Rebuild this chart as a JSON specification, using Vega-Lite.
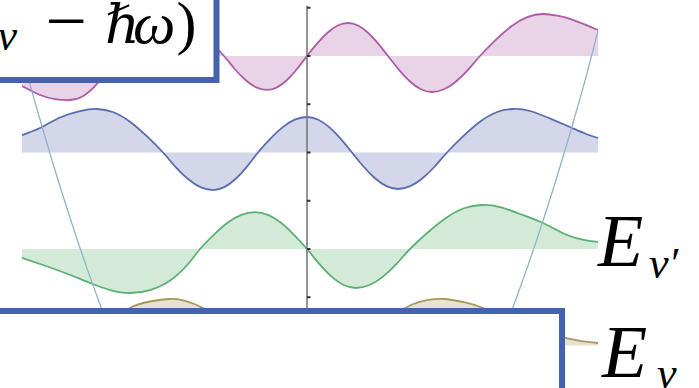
{
  "$schema": "https://vega.github.io/schema/vega-lite/v6.json",
  "width": 699,
  "height": 388,
  "padding": 0,
  "autosize": {"type": "none"},
  "background": "white",
  "config": {"view": {"stroke": null}},
  "datasets": {
    "waves": [
      {"state": "n3", "level": 3, "x": -2.85, "y": 2.689},
      {"state": "n3", "level": 3, "x": -2.67, "y": 2.596},
      {"state": "n3", "level": 3, "x": -2.52, "y": 2.554},
      {"state": "n3", "level": 3, "x": -2.37, "y": 2.544},
      {"state": "n3", "level": 3, "x": -2.25, "y": 2.578},
      {"state": "n3", "level": 3, "x": -2.13, "y": 2.678},
      {"state": "n3", "level": 3, "x": -2.01, "y": 2.826},
      {"state": "n3", "level": 3, "x": -1.89, "y": 3.0},
      {"state": "n3", "level": 3, "x": -1.76, "y": 3.15},
      {"state": "n3", "level": 3, "x": -1.63, "y": 3.279},
      {"state": "n3", "level": 3, "x": -1.5, "y": 3.364},
      {"state": "n3", "level": 3, "x": -1.37, "y": 3.394},
      {"state": "n3", "level": 3, "x": -1.235, "y": 3.364},
      {"state": "n3", "level": 3, "x": -1.1, "y": 3.279},
      {"state": "n3", "level": 3, "x": -0.965, "y": 3.15},
      {"state": "n3", "level": 3, "x": -0.83, "y": 3.0},
      {"state": "n3", "level": 3, "x": -0.7225, "y": 2.865},
      {"state": "n3", "level": 3, "x": -0.615, "y": 2.751},
      {"state": "n3", "level": 3, "x": -0.5075, "y": 2.675},
      {"state": "n3", "level": 3, "x": -0.4, "y": 2.648},
      {"state": "n3", "level": 3, "x": -0.3, "y": 2.675},
      {"state": "n3", "level": 3, "x": -0.2, "y": 2.751},
      {"state": "n3", "level": 3, "x": -0.1, "y": 2.865},
      {"state": "n3", "level": 3, "x": 0, "y": 3.0},
      {"state": "n3", "level": 3, "x": 0.1025, "y": 3.131},
      {"state": "n3", "level": 3, "x": 0.205, "y": 3.241},
      {"state": "n3", "level": 3, "x": 0.3075, "y": 3.316},
      {"state": "n3", "level": 3, "x": 0.41, "y": 3.342},
      {"state": "n3", "level": 3, "x": 0.51, "y": 3.316},
      {"state": "n3", "level": 3, "x": 0.61, "y": 3.241},
      {"state": "n3", "level": 3, "x": 0.71, "y": 3.131},
      {"state": "n3", "level": 3, "x": 0.81, "y": 3.0},
      {"state": "n3", "level": 3, "x": 0.92, "y": 2.857},
      {"state": "n3", "level": 3, "x": 1.03, "y": 2.736},
      {"state": "n3", "level": 3, "x": 1.14, "y": 2.655},
      {"state": "n3", "level": 3, "x": 1.25, "y": 2.627},
      {"state": "n3", "level": 3, "x": 1.37, "y": 2.655},
      {"state": "n3", "level": 3, "x": 1.49, "y": 2.736},
      {"state": "n3", "level": 3, "x": 1.61, "y": 2.857},
      {"state": "n3", "level": 3, "x": 1.73, "y": 3.0},
      {"state": "n3", "level": 3, "x": 1.8875, "y": 3.167},
      {"state": "n3", "level": 3, "x": 2.045, "y": 3.308},
      {"state": "n3", "level": 3, "x": 2.2025, "y": 3.402},
      {"state": "n3", "level": 3, "x": 2.36, "y": 3.435},
      {"state": "n3", "level": 3, "x": 2.5, "y": 3.418},
      {"state": "n3", "level": 3, "x": 2.63, "y": 3.385},
      {"state": "n3", "level": 3, "x": 2.8, "y": 3.318},
      {"state": "n3", "level": 3, "x": 2.91, "y": 3.269},

      {"state": "n2", "level": 2, "x": -2.85, "y": 2.181},
      {"state": "n2", "level": 2, "x": -2.67, "y": 2.254},
      {"state": "n2", "level": 2, "x": -2.47, "y": 2.363},
      {"state": "n2", "level": 2, "x": -2.27, "y": 2.43},
      {"state": "n2", "level": 2, "x": -2.1, "y": 2.451},
      {"state": "n2", "level": 2, "x": -1.935, "y": 2.417},
      {"state": "n2", "level": 2, "x": -1.77, "y": 2.319},
      {"state": "n2", "level": 2, "x": -1.605, "y": 2.172},
      {"state": "n2", "level": 2, "x": -1.44, "y": 2.0},
      {"state": "n2", "level": 2, "x": -1.315, "y": 1.851},
      {"state": "n2", "level": 2, "x": -1.19, "y": 1.725},
      {"state": "n2", "level": 2, "x": -1.065, "y": 1.641},
      {"state": "n2", "level": 2, "x": -0.94, "y": 1.611},
      {"state": "n2", "level": 2, "x": -0.8275, "y": 1.641},
      {"state": "n2", "level": 2, "x": -0.715, "y": 1.725},
      {"state": "n2", "level": 2, "x": -0.6025, "y": 1.851},
      {"state": "n2", "level": 2, "x": -0.49, "y": 2.0},
      {"state": "n2", "level": 2, "x": -0.3675, "y": 2.141},
      {"state": "n2", "level": 2, "x": -0.245, "y": 2.26},
      {"state": "n2", "level": 2, "x": -0.1225, "y": 2.34},
      {"state": "n2", "level": 2, "x": 0, "y": 2.368},
      {"state": "n2", "level": 2, "x": 0.1125, "y": 2.34},
      {"state": "n2", "level": 2, "x": 0.225, "y": 2.26},
      {"state": "n2", "level": 2, "x": 0.3375, "y": 2.141},
      {"state": "n2", "level": 2, "x": 0.45, "y": 2.0},
      {"state": "n2", "level": 2, "x": 0.565, "y": 1.855},
      {"state": "n2", "level": 2, "x": 0.68, "y": 1.733},
      {"state": "n2", "level": 2, "x": 0.795, "y": 1.651},
      {"state": "n2", "level": 2, "x": 0.91, "y": 1.622},
      {"state": "n2", "level": 2, "x": 1.0325, "y": 1.651},
      {"state": "n2", "level": 2, "x": 1.155, "y": 1.733},
      {"state": "n2", "level": 2, "x": 1.2775, "y": 1.855},
      {"state": "n2", "level": 2, "x": 1.4, "y": 2.0},
      {"state": "n2", "level": 2, "x": 1.565, "y": 2.172},
      {"state": "n2", "level": 2, "x": 1.73, "y": 2.319},
      {"state": "n2", "level": 2, "x": 1.895, "y": 2.417},
      {"state": "n2", "level": 2, "x": 2.06, "y": 2.451},
      {"state": "n2", "level": 2, "x": 2.23, "y": 2.43},
      {"state": "n2", "level": 2, "x": 2.43, "y": 2.352},
      {"state": "n2", "level": 2, "x": 2.63, "y": 2.264},
      {"state": "n2", "level": 2, "x": 2.78, "y": 2.197},
      {"state": "n2", "level": 2, "x": 2.91, "y": 2.15},

      {"state": "n1", "level": 1, "x": -2.85, "y": 0.907},
      {"state": "n1", "level": 1, "x": -2.64, "y": 0.834},
      {"state": "n1", "level": 1, "x": -2.42, "y": 0.751},
      {"state": "n1", "level": 1, "x": -2.17, "y": 0.648},
      {"state": "n1", "level": 1, "x": -1.97, "y": 0.575},
      {"state": "n1", "level": 1, "x": -1.77, "y": 0.544},
      {"state": "n1", "level": 1, "x": -1.57, "y": 0.575},
      {"state": "n1", "level": 1, "x": -1.42, "y": 0.64},
      {"state": "n1", "level": 1, "x": -1.3, "y": 0.73},
      {"state": "n1", "level": 1, "x": -1.18, "y": 0.855},
      {"state": "n1", "level": 1, "x": -1.07, "y": 1.0},
      {"state": "n1", "level": 1, "x": -0.9325, "y": 1.147},
      {"state": "n1", "level": 1, "x": -0.795, "y": 1.272},
      {"state": "n1", "level": 1, "x": -0.6575, "y": 1.354},
      {"state": "n1", "level": 1, "x": -0.52, "y": 1.383},
      {"state": "n1", "level": 1, "x": -0.39, "y": 1.354},
      {"state": "n1", "level": 1, "x": -0.26, "y": 1.272},
      {"state": "n1", "level": 1, "x": -0.13, "y": 1.147},
      {"state": "n1", "level": 1, "x": 0, "y": 1.0},
      {"state": "n1", "level": 1, "x": 0.1225, "y": 0.846},
      {"state": "n1", "level": 1, "x": 0.245, "y": 0.714},
      {"state": "n1", "level": 1, "x": 0.3675, "y": 0.627},
      {"state": "n1", "level": 1, "x": 0.49, "y": 0.596},
      {"state": "n1", "level": 1, "x": 0.625, "y": 0.627},
      {"state": "n1", "level": 1, "x": 0.76, "y": 0.714},
      {"state": "n1", "level": 1, "x": 0.895, "y": 0.846},
      {"state": "n1", "level": 1, "x": 1.03, "y": 1.0},
      {"state": "n1", "level": 1, "x": 1.21, "y": 1.174},
      {"state": "n1", "level": 1, "x": 1.39, "y": 1.322},
      {"state": "n1", "level": 1, "x": 1.57, "y": 1.422},
      {"state": "n1", "level": 1, "x": 1.75, "y": 1.456},
      {"state": "n1", "level": 1, "x": 1.93, "y": 1.435},
      {"state": "n1", "level": 1, "x": 2.13, "y": 1.363},
      {"state": "n1", "level": 1, "x": 2.36, "y": 1.269},
      {"state": "n1", "level": 1, "x": 2.6, "y": 1.145},
      {"state": "n1", "level": 1, "x": 2.78, "y": 1.093},
      {"state": "n1", "level": 1, "x": 2.91, "y": 1.073},

      {"state": "n0", "level": 0, "x": -2.85, "y": 0.026},
      {"state": "n0", "level": 0, "x": -2.57, "y": 0.052},
      {"state": "n0", "level": 0, "x": -2.27, "y": 0.114},
      {"state": "n0", "level": 0, "x": -2.02, "y": 0.218},
      {"state": "n0", "level": 0, "x": -1.77, "y": 0.389},
      {"state": "n0", "level": 0, "x": -1.57, "y": 0.456},
      {"state": "n0", "level": 0, "x": -1.37, "y": 0.482},
      {"state": "n0", "level": 0, "x": -1.21, "y": 0.461},
      {"state": "n0", "level": 0, "x": -1.04, "y": 0.389},
      {"state": "n0", "level": 0, "x": -0.87, "y": 0.269},
      {"state": "n0", "level": 0, "x": -0.71, "y": 0.14},
      {"state": "n0", "level": 0, "x": -0.55, "y": 0.0},
      {"state": "n0", "level": 0, "x": -0.41, "y": -0.155},
      {"state": "n0", "level": 0, "x": -0.27, "y": -0.29},
      {"state": "n0", "level": 0, "x": -0.13, "y": -0.383},
      {"state": "n0", "level": 0, "x": 0, "y": -0.415},
      {"state": "n0", "level": 0, "x": 0.14, "y": -0.383},
      {"state": "n0", "level": 0, "x": 0.28, "y": -0.29},
      {"state": "n0", "level": 0, "x": 0.42, "y": -0.155},
      {"state": "n0", "level": 0, "x": 0.56, "y": 0.0},
      {"state": "n0", "level": 0, "x": 0.73, "y": 0.176},
      {"state": "n0", "level": 0, "x": 0.9, "y": 0.332},
      {"state": "n0", "level": 0, "x": 1.05, "y": 0.425},
      {"state": "n0", "level": 0, "x": 1.21, "y": 0.472},
      {"state": "n0", "level": 0, "x": 1.38, "y": 0.482},
      {"state": "n0", "level": 0, "x": 1.58, "y": 0.446},
      {"state": "n0", "level": 0, "x": 1.76, "y": 0.389},
      {"state": "n0", "level": 0, "x": 1.98, "y": 0.28},
      {"state": "n0", "level": 0, "x": 2.23, "y": 0.166},
      {"state": "n0", "level": 0, "x": 2.43, "y": 0.109},
      {"state": "n0", "level": 0, "x": 2.58, "y": 0.078},
      {"state": "n0", "level": 0, "x": 2.73, "y": 0.047},
      {"state": "n0", "level": 0, "x": 2.91, "y": 0.026}
    ],
    "potential": [
      {"side": "left", "x": -2.85, "y": 3.01},
      {"side": "left", "x": -2.8, "y": 2.82},
      {"side": "left", "x": -2.7, "y": 2.45},
      {"side": "left", "x": -2.6, "y": 2.093},
      {"side": "left", "x": -2.5, "y": 1.749},
      {"side": "left", "x": -2.4, "y": 1.419},
      {"side": "left", "x": -2.3, "y": 1.102},
      {"side": "left", "x": -2.2, "y": 0.799},
      {"side": "left", "x": -2.1, "y": 0.51},
      {"side": "left", "x": -2.0, "y": 0.233},
      {"side": "left", "x": -1.9, "y": -0.029},
      {"side": "left", "x": -1.8, "y": -0.279},
      {"side": "left", "x": -1.7, "y": -0.514},
      {"side": "right", "x": 1.7, "y": -0.514},
      {"side": "right", "x": 1.8, "y": -0.279},
      {"side": "right", "x": 1.9, "y": -0.029},
      {"side": "right", "x": 2.0, "y": 0.233},
      {"side": "right", "x": 2.1, "y": 0.51},
      {"side": "right", "x": 2.2, "y": 0.799},
      {"side": "right", "x": 2.3, "y": 1.102},
      {"side": "right", "x": 2.4, "y": 1.419},
      {"side": "right", "x": 2.5, "y": 1.749},
      {"side": "right", "x": 2.6, "y": 2.093},
      {"side": "right", "x": 2.7, "y": 2.45},
      {"side": "right", "x": 2.8, "y": 2.82},
      {"side": "right", "x": 2.91, "y": 3.26}
    ],
    "ticks": [
      {"y": 0.5}, {"y": 1.0}, {"y": 1.5}, {"y": 2.0}, {"y": 2.5}, {"y": 3.0}, {"y": 3.5}
    ],
    "one": [{"k": 1}]
  },
  "layer": [
    {
      "data": {"name": "waves"},
      "mark": {"type": "area", "interpolate": "natural", "opacity": 0.27, "clip": true},
      "encoding": {
        "x": {"field": "x", "type": "quantitative", "axis": null, "scale": {"domain": [-3.07, 3.92], "nice": false, "zero": false}},
        "y": {"field": "y", "type": "quantitative", "axis": null, "scale": {"domain": [-0.4404, 3.5803], "nice": false, "zero": false}},
        "y2": {"field": "level"},
        "color": {"field": "state", "type": "nominal", "legend": null, "scale": {"domain": ["n3", "n2", "n1", "n0"], "range": ["#ad5ca6", "#5b6daf", "#5cb074", "#a8995a"]}},
        "detail": {"field": "state"}
      }
    },
    {
      "data": {"name": "waves"},
      "mark": {"type": "line", "interpolate": "natural", "strokeWidth": 1.8, "clip": true},
      "encoding": {
        "x": {"field": "x", "type": "quantitative", "axis": null},
        "y": {"field": "y", "type": "quantitative", "axis": null},
        "color": {"field": "state", "type": "nominal", "legend": null},
        "detail": {"field": "state"}
      }
    },
    {
      "data": {"name": "potential"},
      "mark": {"type": "line", "interpolate": "natural", "strokeWidth": 1.3, "color": "#8fb4c8", "clip": true},
      "encoding": {
        "x": {"field": "x", "type": "quantitative", "axis": null},
        "y": {"field": "y", "type": "quantitative", "axis": null},
        "detail": {"field": "side"}
      }
    },
    {
      "data": {"name": "one"},
      "mark": {"type": "rule", "color": "#7a7a7a", "strokeWidth": 1.6, "clip": true},
      "encoding": {
        "x": {"datum": 0},
        "y": {"datum": 3.52},
        "y2": {"datum": 0.0}
      }
    },
    {
      "data": {"name": "ticks"},
      "mark": {"type": "rule", "color": "#333333", "strokeWidth": 2, "clip": true},
      "encoding": {
        "x": {"datum": 0},
        "x2": {"datum": 0.035},
        "y": {"field": "y", "type": "quantitative"}
      }
    },
    {
      "data": {"name": "one"},
      "mark": {"type": "rect", "fill": "white", "stroke": "#4563ad", "strokeWidth": 6, "clip": true},
      "encoding": {
        "x": {"datum": -3.4},
        "x2": {"datum": -0.905},
        "y": {"datum": 2.751},
        "y2": {"datum": 3.9}
      }
    },
    {
      "data": {"name": "one"},
      "mark": {"type": "rect", "fill": "white", "stroke": "#4563ad", "strokeWidth": 6, "clip": true},
      "encoding": {
        "x": {"datum": -3.4},
        "x2": {"datum": 2.55},
        "y": {"datum": -0.7},
        "y2": {"datum": 0.3575}
      }
    },
    {
      "data": {"name": "one"},
      "mark": {"type": "text", "font": "Liberation Serif", "fontStyle": "italic", "fontSize": 44, "align": "right", "baseline": "alphabetic", "color": "black", "clip": true},
      "encoding": {"x": {"datum": -2.9}, "y": {"datum": 3.062}, "text": {"value": "ν"}}
    },
    {
      "data": {"name": "one"},
      "mark": {"type": "text", "font": "Liberation Serif", "fontSize": 74, "align": "center", "baseline": "alphabetic", "color": "black", "clip": true},
      "encoding": {"x": {"datum": -2.41}, "y": {"datum": 3.108}, "text": {"value": "−"}}
    },
    {
      "data": {"name": "one"},
      "mark": {"type": "text", "font": "DejaVu Serif", "fontStyle": "italic", "fontSize": 54, "align": "left", "baseline": "alphabetic", "color": "black", "clip": true},
      "encoding": {"x": {"datum": -2.02}, "y": {"datum": 3.135}, "text": {"value": "ℏ"}}
    },
    {
      "data": {"name": "one"},
      "mark": {"type": "text", "font": "Liberation Serif", "fontStyle": "italic", "fontSize": 60, "align": "left", "baseline": "alphabetic", "color": "black", "clip": true},
      "encoding": {"x": {"datum": -1.74}, "y": {"datum": 3.135}, "text": {"value": "ω"}}
    },
    {
      "data": {"name": "one"},
      "mark": {"type": "text", "font": "Liberation Serif", "fontSize": 60, "align": "center", "baseline": "alphabetic", "color": "black", "clip": true},
      "encoding": {"x": {"datum": -1.205}, "y": {"datum": 3.135}, "text": {"value": ")"}}
    },
    {
      "data": {"name": "one"},
      "mark": {"type": "text", "font": "Liberation Serif", "fontStyle": "italic", "fontSize": 74, "align": "left", "baseline": "alphabetic", "color": "black", "clip": true},
      "encoding": {"x": {"datum": 2.91}, "y": {"datum": 0.824}, "text": {"value": "E"}}
    },
    {
      "data": {"name": "one"},
      "mark": {"type": "text", "font": "Liberation Serif", "fontStyle": "italic", "fontSize": 44, "align": "left", "baseline": "alphabetic", "color": "black", "clip": true},
      "encoding": {"x": {"datum": 3.42}, "y": {"datum": 0.699}, "text": {"value": "ν′"}}
    },
    {
      "data": {"name": "one"},
      "mark": {"type": "text", "font": "Liberation Serif", "fontStyle": "italic", "fontSize": 74, "align": "left", "baseline": "alphabetic", "color": "black", "clip": true},
      "encoding": {"x": {"datum": 2.95}, "y": {"datum": -0.326}, "text": {"value": "E"}}
    },
    {
      "data": {"name": "one"},
      "mark": {"type": "text", "font": "Liberation Serif", "fontStyle": "italic", "fontSize": 44, "align": "left", "baseline": "alphabetic", "color": "black", "clip": true},
      "encoding": {"x": {"datum": 3.5}, "y": {"datum": -0.44}, "text": {"value": "ν"}}
    }
  ]
}
